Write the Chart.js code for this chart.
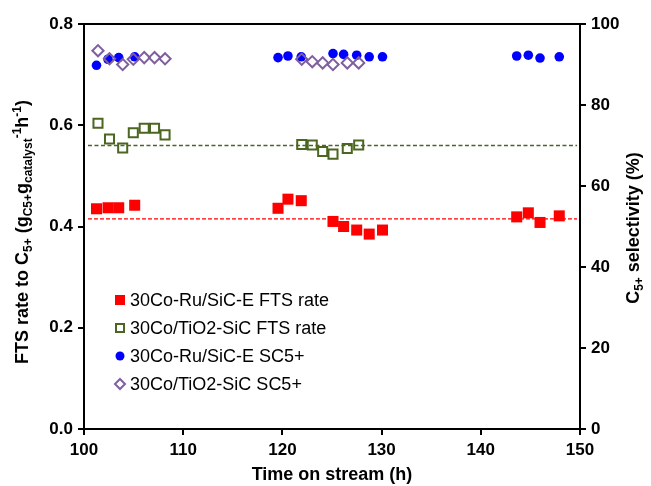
<!DOCTYPE html>
<html lang="en">
<head>
<meta charset="UTF-8">
<title>FTS rate and C5+ selectivity vs time on stream</title>
<style>
  body { margin: 0; background: #fff; }
  #wrap { width: 651px; height: 486px; }
</style>
<script src="https://cdn.jsdelivr.net/npm/chart.js@4.4.1/dist/chart.umd.min.js"></script>
</head>
<body>
<div id="wrap"><canvas id="ftsChart" width="651" height="486"></canvas></div>
<script>
// 30Co-Ru/SiC-E : time on stream (h), FTS rate, C5+ selectivity (%)
const timeRu = [101.26, 102.42, 103.5, 105.11, 119.56, 120.56, 121.9, 125.1, 126.17, 127.49, 128.75, 130.09, 143.62, 144.79, 145.97, 147.91];
const rateRu = [0.435, 0.437, 0.437, 0.442, 0.436, 0.454, 0.451, 0.410, 0.400, 0.393, 0.385, 0.393, 0.419, 0.427, 0.408, 0.421];
const selRu  = [89.8, 91.3, 91.7, 91.9, 91.7, 92.1, 91.9, 92.7, 92.5, 92.3, 91.9, 91.9, 92.1, 92.3, 91.6, 91.9];

// 30Co/TiO2-SiC
const timeTi = [101.41, 102.57, 103.9, 104.97, 106.07, 107.11, 108.17, 121.95, 123.01, 124.06, 125.1, 126.54, 127.69];
const rateTi = [0.604, 0.573, 0.555, 0.585, 0.594, 0.594, 0.581, 0.562, 0.561, 0.548, 0.543, 0.554, 0.561];
const selTi  = [93.4, 91.4, 90.0, 91.3, 91.7, 91.7, 91.4, 91.3, 90.7, 90.4, 90.0, 90.4, 90.4];

// average rate lines
const avgSpan = [100.4, 149.7];
const avgRateRu = 0.415;
const avgRateTi = 0.56;

const xTicks = [100, 110, 120, 130, 140, 150];
const labels = ['30Co-Ru/SiC-E FTS rate', '30Co/TiO2-SiC FTS rate', '30Co-Ru/SiC-E SC5+', '30Co/TiO2-SiC SC5+'];

const RED = '#ff0000', GREEN = '#4a6620', BLUE = '#0000ff', PURPLE = '#7f5f9f';
const FONT = '"Liberation Sans", Arial, sans-serif';

const pts = (xs, ys) => xs.map((x, i) => ({ x: x, y: ys[i] }));

// titles with sub/superscripts, top frame line, legend inside the plot
const decor = {
  id: 'decor',
  afterDraw(chart) {
    const ctx = chart.ctx, a = chart.chartArea;
    ctx.save();
    ctx.strokeStyle = '#000';
    ctx.lineWidth = 2;
    ctx.beginPath();
    ctx.moveTo(a.left - 1, a.top);
    ctx.lineTo(a.right + 1, a.top);
    ctx.stroke();

    richText(ctx, [['FTS rate to C', 'n'], ['5+', 'sub'], [' (g', 'n'], ['C5+', 'sub'], ['g', 'n'],
      ['catalyst', 'sub'], ['-1', 'sup'], ['h', 'n'], ['-1', 'sup'], [')', 'n']], 22, 232);
    richText(ctx, [['C', 'n'], ['5+', 'sub'], [' selectivity (%)', 'n']], 633, 228);

    // legend
    const mx = a.left + 36, tx = a.left + 46;
    let y = a.top + 276;
    const marks = ['rect', 'open', 'circle', 'diamond'];
    marks.forEach((m, i) => {
      ctx.lineWidth = 2;
      if (m === 'rect') { ctx.fillStyle = RED; ctx.fillRect(mx - 5, y - 5, 10, 10); }
      if (m === 'open') { ctx.strokeStyle = GREEN; ctx.strokeRect(mx - 4, y - 4, 8, 8); }
      if (m === 'circle') { ctx.fillStyle = BLUE; ctx.beginPath(); ctx.arc(mx, y, 4.5, 0, Math.PI * 2); ctx.fill(); }
      if (m === 'diamond') {
        ctx.strokeStyle = PURPLE; ctx.beginPath();
        ctx.moveTo(mx, y - 5); ctx.lineTo(mx + 5, y); ctx.lineTo(mx, y + 5); ctx.lineTo(mx - 5, y); ctx.closePath(); ctx.stroke();
      }
      ctx.fillStyle = '#000';
      ctx.font = '18px ' + FONT;
      ctx.textAlign = 'left';
      ctx.textBaseline = 'middle';
      ctx.fillText(labels[i], tx, y + 1);
      y += 28;
    });
    ctx.restore();
  }
};

function richText(ctx, parts, cx, cy) {
  const fontOf = k => (k === 'n' ? 'bold 18px ' : 'bold 12px ') + FONT;
  let total = 0;
  parts.forEach(p => { ctx.font = fontOf(p[1]); total += ctx.measureText(p[0]).width; });
  ctx.save();
  ctx.translate(cx, cy);
  ctx.rotate(-Math.PI / 2);
  ctx.fillStyle = '#000';
  ctx.textAlign = 'left';
  ctx.textBaseline = 'alphabetic';
  let x = -total / 2;
  parts.forEach(p => {
    ctx.font = fontOf(p[1]);
    const dy = p[1] === 'sub' ? 10 : (p[1] === 'sup' ? -1 : 6);
    ctx.fillText(p[0], x, dy);
    x += ctx.measureText(p[0]).width;
  });
  ctx.restore();
}

const axisCommon = {
  grid: { drawOnChartArea: false, drawTicks: true, tickLength: 6, color: '#000', lineWidth: 2 },
  border: { display: true, color: '#000', width: 2 },
  ticks: { color: '#000', font: { family: FONT, size: 17, weight: 'bold' }, padding: 5 }
};

new Chart(document.getElementById('ftsChart'), {
  type: 'scatter',
  data: {
    datasets: [
      { label: labels[0], data: pts(timeRu, rateRu), yAxisID: 'y', order: 4,
        pointStyle: 'rect', pointRadius: 7.8, backgroundColor: RED, borderColor: RED, borderWidth: 0 },
      { label: labels[1], data: pts(timeTi, rateTi), yAxisID: 'y', order: 3,
        pointStyle: 'rect', pointRadius: 6.4, backgroundColor: 'rgba(0,0,0,0)', borderColor: GREEN, borderWidth: 2 },
      { label: labels[2], data: pts(timeRu, selRu), yAxisID: 'y2', order: 2,
        pointStyle: 'circle', pointRadius: 4.8, backgroundColor: BLUE, borderColor: BLUE, borderWidth: 0 },
      { label: labels[3], data: pts(timeTi, selTi), yAxisID: 'y2', order: 1,
        pointStyle: 'rectRot', pointRadius: 5.6, backgroundColor: 'rgba(0,0,0,0)', borderColor: PURPLE, borderWidth: 2 },
      { label: 'avg Ru', data: pts(avgSpan, [avgRateRu, avgRateRu]), yAxisID: 'y', order: 5, showLine: true,
        pointRadius: 0, borderColor: RED, borderWidth: 1.4, borderDash: [4, 2] },
      { label: 'avg Ti', data: pts(avgSpan, [avgRateTi, avgRateTi]), yAxisID: 'y', order: 5, showLine: true,
        pointRadius: 0, borderColor: GREEN, borderWidth: 1.5, borderDash: [4, 2.5] }
    ]
  },
  options: {
    responsive: false,
    animation: false,
    layout: { padding: { top: 24, left: 0, right: 0, bottom: 0 } },
    plugins: { legend: { display: false }, tooltip: { enabled: false } },
    scales: {
      x: {
        ...axisCommon, type: 'linear', min: 100, max: 150,
        afterBuildTicks: s => { s.ticks = xTicks.map(v => ({ value: v })); },
        afterFit: s => { s.height = 57; },
        title: { display: true, text: 'Time on stream (h)', color: '#000', font: { family: FONT, size: 18, weight: 'bold' }, padding: 0 }
      },
      y: {
        ...axisCommon, position: 'left', min: 0, max: 0.8,
        ticks: { ...axisCommon.ticks, stepSize: 0.2, callback: v => v.toFixed(1) },
        afterFit: s => { s.width = 84; }
      },
      y2: {
        ...axisCommon, position: 'right', min: 0, max: 100,
        ticks: { ...axisCommon.ticks, stepSize: 20 },
        afterFit: s => { s.width = 71; }
      }
    }
  },
  plugins: [decor]
});
</script>
</body>
</html>
